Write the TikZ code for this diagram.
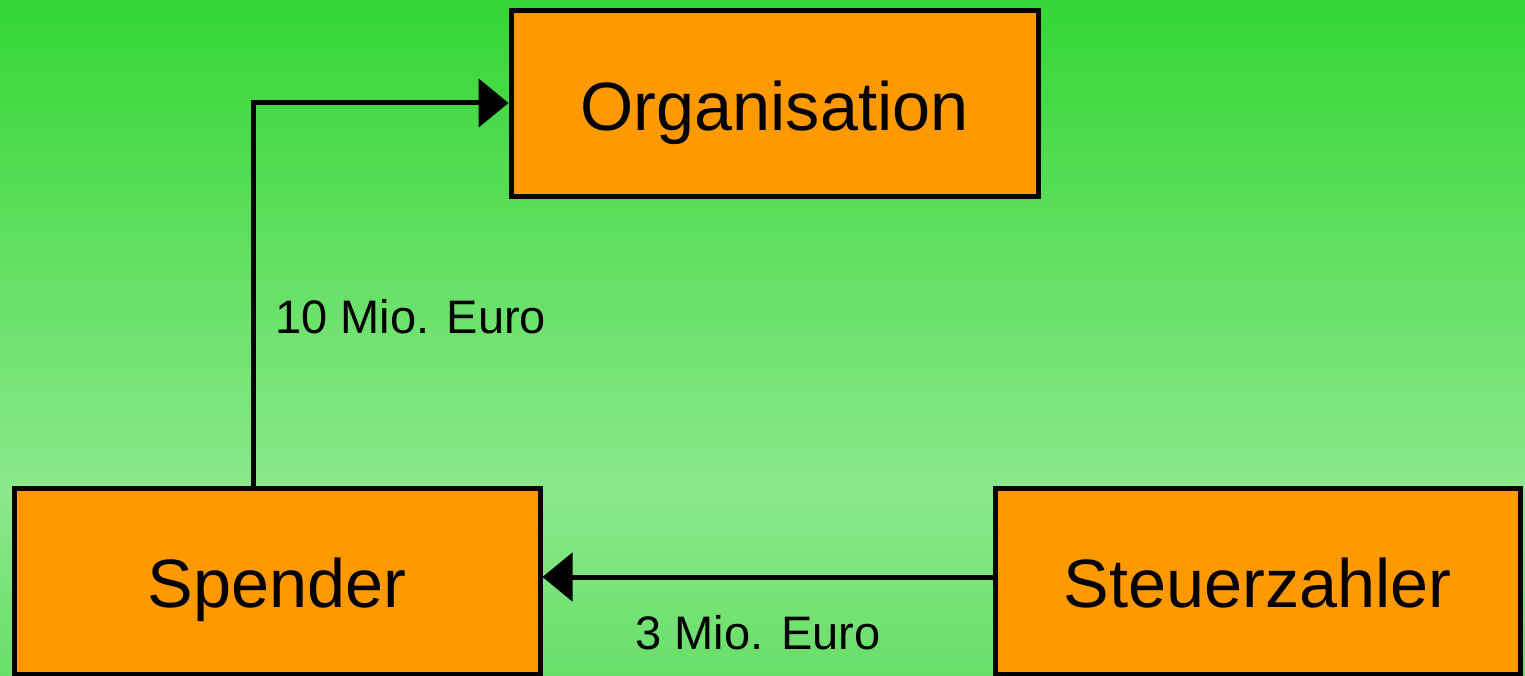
\documentclass[tikz,border=0pt]{standalone}
\usepackage{fontspec}
\setmainfont{Liberation Sans}
\usetikzlibrary{arrows.meta}
\definecolor{gtop}{RGB}{52,214,52}
\definecolor{gmid}{RGB}{139,232,139}
\definecolor{gbot}{RGB}{104,222,104}
\definecolor{boxorange}{RGB}{255,153,0}
\tikzset{
  box/.style={draw=black, fill=boxorange, line width=5pt, inner sep=0pt,
    minimum height=186pt, text height=53pt, text depth=0pt,
    font=\fontsize{68.4}{80}\selectfont},
  flow/.style={draw=black, line width=5pt, -{Triangle[length=30pt,width=48pt]}},
  amount/.style={font=\fontsize{47}{56}\selectfont, inner sep=0pt}
}
\begin{document}
\begin{tikzpicture}[x=1pt,y=-1pt]
\useasboundingbox (0,0) rectangle (1525,676);
\shade[top color=gtop, bottom color=gmid] (0,0) rectangle (1525,490);
\shade[top color=gmid, bottom color=gbot] (0,489.5) rectangle (1525,676);
\node[box, minimum width=527pt] (org) at (774.5,104) {Organisation};
\node[box, minimum width=526pt] (sp) at (277,581) {Spender};
\node[box, minimum width=525pt] (st) at (1257.5,581) {Steuerzahler};
\coordinate (bend) at (253,103);
\coordinate (low) at (0,577);
\draw[flow] (sp.north -| bend) -- (bend) -- (org.west |- bend);
\draw[flow] (st.west |- low) -- (sp.east |- low);
\node[amount, anchor=west] (l1) at (275,317) {10 Mio. Euro};
\node[amount] (l2) at (758,633) {3 Mio. Euro};
\end{tikzpicture}
\end{document}
